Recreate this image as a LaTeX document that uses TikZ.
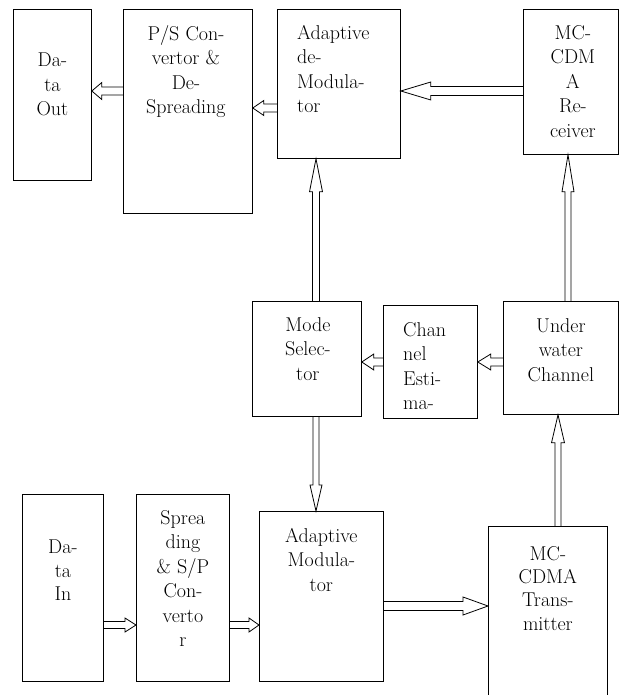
\documentclass[tikz,border=0pt]{standalone}
\usepackage{tikz}
\usetikzlibrary{calc,positioning}
\tikzstyle{blk}=[
  draw,line width=0.8bp,inner sep=0pt,anchor=north west
]
\tikzstyle{lbl}=[
  inner sep=0pt,anchor=north,align=center,font=\fontsize{20bp}{24.5bp}\selectfont
]
\tikzstyle{lbltight}=[
  lbl,font=\fontsize{20bp}{23.3bp}\selectfont
]
\tikzstyle{lblleft}=[
  lbl,anchor=north west,align=left
]
\tikzstyle{hollow}=[
  draw,line width=0.8bp,line join=miter
]
% #1 shaft half width, #2 head length, #3 head half width, #4 tail, #5 tip
\newcommand{\hollowarrow}[5]{%
  \coordinate (hb) at ($#5!#2!#4$);
  \draw[hollow] ($#4!#1!90:#5$) -- ($(hb)!#1!90:#5$) -- ($(hb)!#3!90:#5$) -- #5
    -- ($(hb)!#3!-90:#5$) -- ($(hb)!#1!-90:#5$) -- ($#4!#1!-90:#5$);%
}

\begin{document}
\begin{tikzpicture}[x=1bp,y=1bp]
  \useasboundingbox (0,0) rectangle (624,-695);
  % receiver side
  \node (dout) at (13,-9) [blk,minimum width=78bp,minimum height=171bp] {};
  \node (ps) at (123,-9) [blk,minimum width=129bp,minimum height=204bp] {};
  \node (ademod) at (277,-9) [blk,minimum width=123bp,minimum height=149bp] {};
  \node (rx) at (523,-9) [blk,minimum width=95bp,minimum height=145bp] {};
  \node (doutt) at ($(dout.north)+(0,-44)$) [lbl] {Da-\\ta\\Out};
  \node (pst) at ($(ps.north)+(-2,-16)$) [lbl] {P/S Con-\\vertor \&\\De-\\Spreading};
  \node (ademodt) at ($(ademod.north west)+(20,-16)$) [lblleft] {Adaptive\\de-\\Modula-\\tor};
  \node (rxt) at ($(rx.north)+(2,-16)$) [lbl] {MC-\\CDM\\A\\Re-\\ceiver};
  % middle row
  \node (msel) at (252,-301) [blk,minimum width=109bp,minimum height=115bp] {};
  \node (chest) at (383,-305) [blk,minimum width=94bp,minimum height=113bp] {};
  \node (uwc) at (503,-301) [blk,minimum width=115bp,minimum height=113bp] {};
  \node (mselt) at ($(msel.north)+(1,-16)$) [lbl] {Mode\\Selec-\\tor};
  \node (chestt) at ($(chest.north west)+(20,-17)$) [lblleft] {Chan\\nel\\Esti-\\ma-};
  \node (uwct) at ($(uwc.north)+(0,-17)$) [lbl] {Under\\water\\Channel};
  % transmitter side
  \node (din) at (22,-494) [blk,minimum width=81bp,minimum height=187bp] {};
  \node (spr) at (136,-494) [blk,minimum width=93bp,minimum height=187bp] {};
  \node (amod) at (259,-511) [blk,minimum width=124bp,minimum height=170bp] {};
  \node (tx) at (488,-526) [blk,minimum width=119bp,minimum height=190bp] {};
  \node (dint) at ($(din.north)+(0,-46)$) [lbltight] {Da-\\ta\\In};
  \node (sprt) at ($(spr.north)+(0,-16)$) [lbl] {Sprea\\ding\\\& S/P\\Con-\\verto\\r};
  \node (amodt) at ($(amod.north)+(0,-17)$) [lbl] {Adaptive\\Modula-\\tor};
  \node (txt) at ($(tx.north)+(0,-20)$) [lbltight] {MC-\\CDMA\\Trans-\\mitter};
  % connectors
  \hollowarrow{4bp}{10bp}{8.5bp}{(ps.west |- 0,-91)}{(dout.east |- 0,-91)}
  \hollowarrow{4bp}{11bp}{7.5bp}{(ademod.west |- 0,-108)}{(ps.east |- 0,-108)}
  \hollowarrow{4.5bp}{30bp}{9bp}{(rx.west |- 0,-91)}{(ademod.east |- 0,-91)}
  \hollowarrow{3.5bp}{33bp}{6.5bp}{(msel.north -| 316,0)}{(ademod.south -| 316,0)}
  \hollowarrow{3bp}{37bp}{6bp}{(uwc.north -| 568,0)}{(rx.south -| 568,0)}
  \hollowarrow{4bp}{12bp}{8bp}{(chest.west |- 0,-362)}{(msel.east |- 0,-362)}
  \hollowarrow{4bp}{13bp}{8bp}{(uwc.west |- 0,-362)}{(chest.east |- 0,-362)}
  \hollowarrow{3bp}{26bp}{6bp}{(msel.south -| 316,0)}{(amod.north -| 316,0)}
  \hollowarrow{3.5bp}{11bp}{7bp}{(din.east |- 0,-625)}{(spr.west |- 0,-625)}
  \hollowarrow{3.5bp}{10bp}{7bp}{(spr.east |- 0,-625)}{(amod.west |- 0,-625)}
  \hollowarrow{4.5bp}{25bp}{9bp}{(amod.east |- 0,-606)}{(tx.west |- 0,-606)}
  \hollowarrow{3bp}{28bp}{6.5bp}{(tx.north -| 558,0)}{(uwc.south -| 558,0)}
\end{tikzpicture}
\end{document}
